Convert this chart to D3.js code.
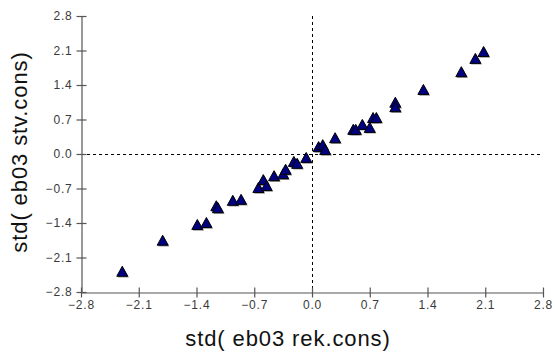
<!DOCTYPE html>
<html>
<head>
<meta charset="utf-8">
<script src="https://cdn.jsdelivr.net/npm/d3@7"></script>
<style>
  html, body { margin: 0; padding: 0; background: #fff; }
  svg { display: block; }
</style>
</head>
<body>
<svg id="chart" width="555" height="354"></svg>
<script>
// ---- data ----
const xValues = [-2.30, -1.81, -1.39, -1.28, -1.16, -1.14, -0.96, -0.86, -0.65, -0.59, -0.55,
                 -0.46, -0.35, -0.32, -0.22, -0.18, -0.07, 0.08, 0.13, 0.16, 0.28, 0.50,
                 0.53, 0.61, 0.70, 0.74, 0.78, 1.01, 1.01, 1.35, 1.81, 1.98, 2.08];
const yValues = [-2.39, -1.76, -1.44, -1.40, -1.06, -1.10, -0.95, -0.93, -0.69, -0.53, -0.65,
                 -0.45, -0.41, -0.32, -0.16, -0.20, -0.08, 0.14, 0.18, 0.08, 0.32, 0.49,
                 0.49, 0.59, 0.53, 0.73, 0.73, 1.04, 0.95, 1.30, 1.66, 1.93, 2.07];
const tickValues = [-2.8, -2.1, -1.4, -0.7, 0.0, 0.7, 1.4, 2.1, 2.8];
const xTitle = "std( eb03 rek.cons)";
const yTitle = "std( eb03 stv.cons)";

const points = xValues.map((x, i) => ({ x, y: yValues[i] }));

const svg = d3.select("#chart");
const mLeft = 81, mRight = 543, mTop = 16, mBottom = 292;

const x = d3.scaleLinear().domain([-2.8, 2.8]).range([mLeft, mRight]);
const y = d3.scaleLinear().domain([-2.8, 2.8]).range([mBottom, mTop]);
const fmt = d3.format(".1f");
const axisColor = "#555";
const labelFont = "'Liberation Sans', Arial, sans-serif";

// reference dashed lines
svg.append("line")
  .attr("x1", x(-2.8)).attr("x2", x(2.8))
  .attr("y1", Math.round(y(0)) + 0.5).attr("y2", Math.round(y(0)) + 0.5)
  .attr("stroke", "#000").attr("stroke-width", 1).attr("stroke-dasharray", "3,3");
svg.append("line")
  .attr("x1", Math.round(x(0)) + 0.5).attr("x2", Math.round(x(0)) + 0.5)
  .attr("y1", y(2.8)).attr("y2", y(-2.8))
  .attr("stroke", "#000").attr("stroke-width", 1).attr("stroke-dasharray", "3,3");

// axes
const yAxis = d3.axisLeft(y).tickValues(tickValues).tickFormat(fmt).tickSize(5).tickPadding(4).tickSizeOuter(0);
const xAxis = d3.axisBottom(x).tickValues(tickValues).tickFormat(fmt).tickSize(5).tickPadding(3).tickSizeOuter(0);

const gy = svg.append("g").attr("transform", `translate(${mLeft + 0.5},0)`).call(yAxis);
const gx = svg.append("g").attr("transform", `translate(0,${mBottom + 0.5})`).call(xAxis);

[gy, gx].forEach(g => {
  g.select(".domain").attr("stroke", axisColor).attr("stroke-width", 1.2);
  g.selectAll(".tick line").attr("stroke", axisColor).attr("stroke-width", 1.2);
  g.selectAll(".tick text")
    .attr("fill", "#3a3a3a")
    .style("font-family", labelFont)
    .style("font-size", "12px")
    .style("letter-spacing", "0.8px");
});
gy.selectAll(".tick line").attr("x1", -5).attr("x2", 5);
gx.selectAll(".tick line").attr("y1", -5).attr("y2", 5);

// titles
svg.append("text")
  .attr("x", 288).attr("y", 346)
  .attr("text-anchor", "middle")
  .style("font-family", labelFont)
  .style("font-size", "22px")
  .style("letter-spacing", "0.9px")
  .attr("fill", "#111")
  .text(xTitle);
svg.append("text")
  .attr("transform", `translate(27,152) rotate(-90)`)
  .attr("text-anchor", "middle")
  .style("font-family", labelFont)
  .style("font-size", "22px")
  .style("letter-spacing", "0.9px")
  .attr("fill", "#111")
  .text(yTitle);

// markers
const tri = "M0,-5.5 L5.5,4.5 L-5.5,4.5 Z";
const g = svg.append("g");
g.selectAll("path.shadow").data(points).join("path")
  .attr("class", "shadow")
  .attr("d", tri)
  .attr("transform", d => `translate(${x(d.x) + 1.2},${y(d.y) + 1.2})`)
  .attr("fill", "#9a9a9a");
g.selectAll("path.mark").data(points).join("path")
  .attr("class", "mark")
  .attr("d", tri)
  .attr("transform", d => `translate(${x(d.x)},${y(d.y)})`)
  .attr("fill", "#000080")
  .attr("stroke", "#000")
  .attr("stroke-width", 1);
</script>
</body>
</html>
